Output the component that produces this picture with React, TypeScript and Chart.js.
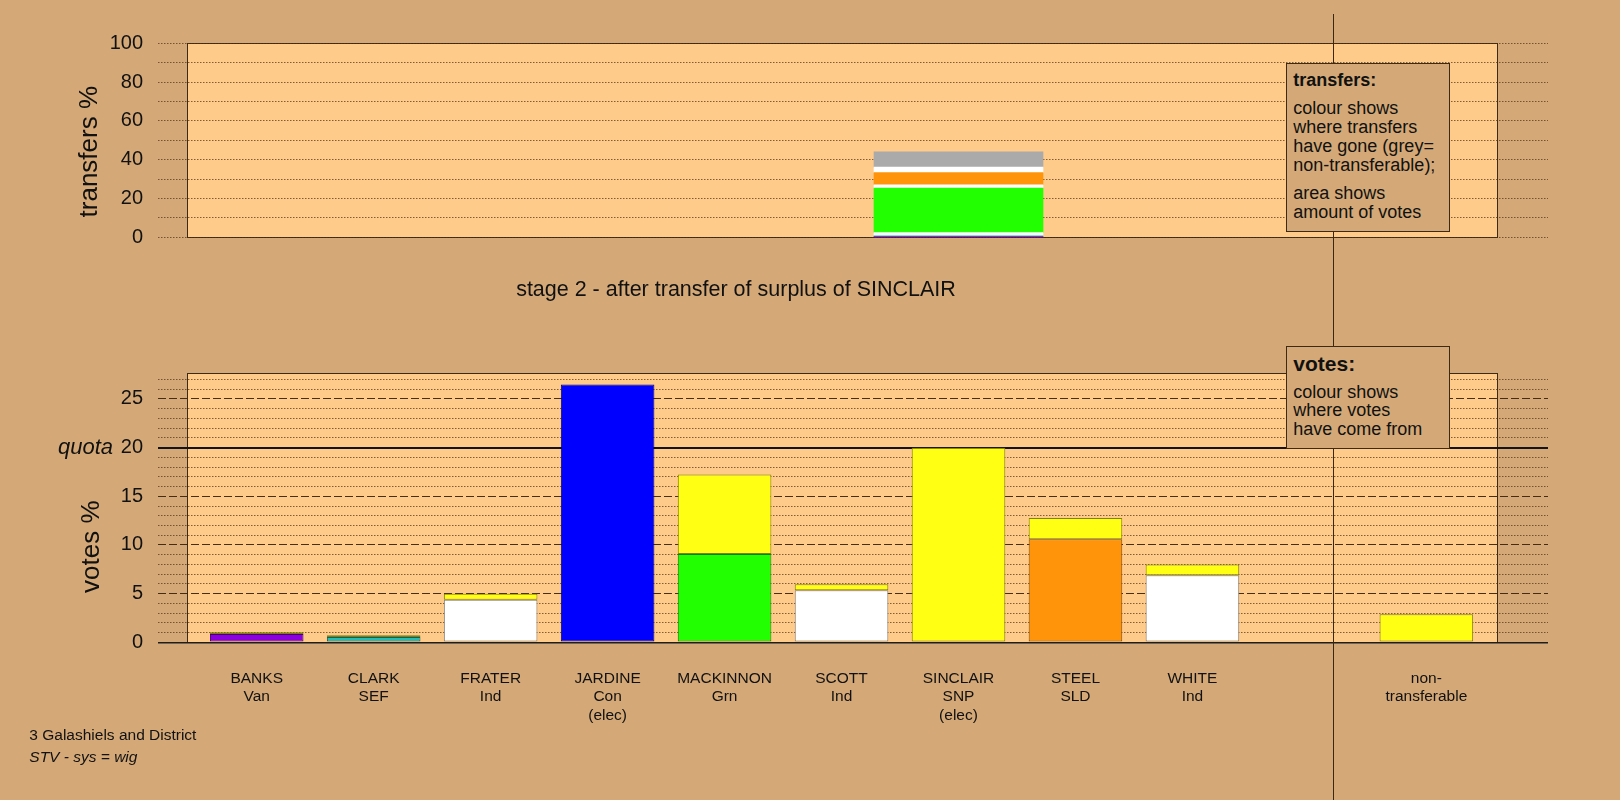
import React, { useEffect, useRef } from 'react';
import { Chart, registerables } from 'chart.js';

Chart.register(...registerables);

// ---------------- data ----------------
const categoryLabels: string[][] = [
  ['BANKS', 'Van'],
  ['CLARK', 'SEF'],
  ['FRATER', 'Ind'],
  ['JARDINE', 'Con', '(elec)'],
  ['MACKINNON', 'Grn'],
  ['SCOTT', 'Ind'],
  ['SINCLAIR', 'SNP', '(elec)'],
  ['STEEL', 'SLD'],
  ['WHITE', 'Ind'],
  [],
  ['non-', 'transferable'],
];
const candidateColours = ['#8c00e0', '#1fbcbc', '#ffffff', '#0000ff', '#22ff00', '#ffffff', '#ffff14', '#ff940a', '#ffffff', '#ffffff', '#ffff14'];
const ownVotes = [0.85, 0.55, 4.36, 26.5, 9.06, 5.35, 20.0, 10.6, 6.9, null, null];
const votesFromSinclair = [0.17, 0.17, 0.64, null, 8.17, 0.62, null, 2.17, 1.1, null, 2.88];
const sinclairColour = '#ffff14';

const transferTargets = ['BANKS', 'CLARK', 'FRATER', 'MACKINNON', 'SCOTT', 'STEEL', 'WHITE', 'non-transferable'];
const transferPercent = [0.4, 0.4, 1.6, 23.0, 1.7, 6.2, 2.9, 7.8];
const transferColours = ['#8c00e0', '#1fbcbc', '#ffffff', '#22ff00', '#ffffff', '#ff940a', '#ffffff', '#aaaaaa'];
const transferSource = 6; // SINCLAIR

const transferTickValues = [0, 10, 20, 30, 40, 50, 60, 70, 80, 90, 100];
const voteTickValues = [0, 1, 2, 3, 4, 5, 6, 7, 8, 9, 10, 11, 12, 13, 14, 15, 16, 17, 18, 19, 20, 21, 22, 23, 24, 25, 26, 27];
const quota = 20;

// ---------------- styles ----------------
const FONT = "'Liberation Sans', Arial, Helvetica, sans-serif";
const BG = '#d4a977';
const PEACH = '#ffcb8a';
const INK = '#111111';
const BOX_LINE = '#3d2a14';
const DOT = 'rgba(80,50,20,0.72)';
const DASH = 'rgba(60,38,15,0.95)';

const X_MIN = -0.844;
const X_MAX = 11.04;
const PANEL_X: [number, number] = [-0.6, 10.6];
const SEPARATOR_X = 9.2;

function darken(hex: string, f = 0.5) {
  const n = parseInt(hex.slice(1), 16);
  const r = Math.round(((n >> 16) & 255) * f);
  const g = Math.round(((n >> 8) & 255) * f);
  const b = Math.round((n & 255) * f);
  return `rgb(${r},${g},${b})`;
}

function panelPlugin(opts: { yTop: number; sepFrom: number; title: string; titleX: number; titleY: number; quota?: number }) {
  return {
    id: 'panel',
    beforeDraw(chart: any) {
      const { ctx } = chart;
      const x = chart.scales.x;
      const y = chart.scales.y;
      const l = Math.round(x.getPixelForValue(PANEL_X[0]));
      const r = Math.round(x.getPixelForValue(PANEL_X[1]));
      const t = Math.round(y.getPixelForValue(opts.yTop));
      const b = Math.round(y.getPixelForValue(0));
      ctx.save();
      ctx.fillStyle = PEACH;
      ctx.fillRect(l, t, r - l, b - t);
      ctx.strokeStyle = BOX_LINE;
      ctx.lineWidth = 1;
      ctx.strokeRect(l + 0.5, t + 0.5, r - l, b - t);
      ctx.restore();
    },
    afterDraw(chart: any) {
      const { ctx } = chart;
      const x = chart.scales.x;
      const y = chart.scales.y;
      const sx = Math.round(x.getPixelForValue(SEPARATOR_X)) + 0.5;
      ctx.save();
      ctx.strokeStyle = '#3a2812';
      ctx.lineWidth = 1;
      ctx.beginPath();
      ctx.moveTo(sx, opts.sepFrom);
      ctx.lineTo(sx, chart.height);
      ctx.stroke();
      ctx.restore();

      ctx.save();
      ctx.fillStyle = INK;
      ctx.font = `26px ${FONT}`;
      ctx.textAlign = 'center';
      ctx.textBaseline = 'alphabetic';
      ctx.translate(opts.titleX, opts.titleY);
      ctx.rotate(-Math.PI / 2);
      ctx.fillText(opts.title, 0, 0);
      ctx.restore();

      if (opts.quota != null) {
        ctx.save();
        ctx.fillStyle = INK;
        ctx.font = `italic 22px ${FONT}`;
        ctx.textAlign = 'right';
        ctx.textBaseline = 'middle';
        ctx.fillText('quota', 113, y.getPixelForValue(opts.quota));
        ctx.restore();
      }
    },
  };
}

function topConfig(): any {
  return {
    type: 'bar',
    data: {
      datasets: transferTargets.map((name, i) => ({
        label: name,
        data: [{ x: transferSource, y: transferPercent[i] }],
        backgroundColor: transferColours[i],
        borderWidth: 0,
        barThickness: 169,
        stack: 'transfer',
      })),
    },
    options: {
      animation: false,
      responsive: false,
      maintainAspectRatio: false,
      layout: { padding: { top: 43.3, right: 72, bottom: 62.7, left: 0 } },
      plugins: { legend: { display: false }, tooltip: { enabled: false } },
      scales: {
        x: { type: 'linear', min: X_MIN, max: X_MAX, offset: false, stacked: true, display: false },
        y: {
          type: 'linear',
          min: 0,
          max: 100,
          stacked: true,
          afterBuildTicks: (s: any) => {
            s.ticks = transferTickValues.map((v) => ({ value: v }));
          },
          afterFit: (s: any) => {
            s.width = 158;
          },
          ticks: {
            autoSkip: false,
            padding: 15,
            color: INK,
            font: { family: FONT, size: 20 },
            callback: (v: number) => (v % 20 === 0 ? String(v) : ''),
          },
          grid: { drawTicks: false, color: DOT, lineWidth: 1 },
          border: { display: false, dash: [1.5, 1.5] },
        },
      },
    },
    plugins: [panelPlugin({ yTop: 100, sepFrom: 14, title: 'transfers %', titleX: 97, titleY: 151.7 })],
  };
}

function bottomConfig(): any {
  const xs = categoryLabels.map((_, i) => i);
  return {
    type: 'bar',
    data: {
      datasets: [
        {
          label: 'own votes',
          data: xs.map((i) => ({ x: i, y: ownVotes[i] })),
          backgroundColor: candidateColours,
          borderColor: candidateColours.map((c) => darken(c)),
          borderWidth: 1,
          borderSkipped: false,
          categoryPercentage: 0.8,
          barPercentage: 1,
          stack: 'votes',
        },
        {
          label: 'from SINCLAIR',
          data: xs.map((i) => ({ x: i, y: votesFromSinclair[i] })),
          backgroundColor: sinclairColour,
          borderColor: darken(sinclairColour),
          borderWidth: 1,
          borderSkipped: false,
          categoryPercentage: 0.8,
          barPercentage: 1,
          stack: 'votes',
        },
      ],
    },
    options: {
      animation: false,
      responsive: false,
      maintainAspectRatio: false,
      layout: { padding: { top: 72.7, right: 72, bottom: 0, left: 0 } },
      plugins: { legend: { display: false }, tooltip: { enabled: false } },
      scales: {
        x: {
          type: 'linear',
          min: X_MIN,
          max: X_MAX,
          offset: false,
          stacked: true,
          grid: { display: false },
          border: { display: false },
          afterBuildTicks: (s: any) => {
            s.ticks = xs.map((v) => ({ value: v }));
          },
          afterFit: (s: any) => {
            s.height = 157.7;
          },
          ticks: {
            autoSkip: false,
            maxRotation: 0,
            minRotation: 0,
            padding: 19,
            color: INK,
            font: { family: FONT, size: 15.5, lineHeight: 1.2 },
            callback: (v: number) => categoryLabels[Math.round(v)] || '',
          },
        },
        y: {
          type: 'linear',
          min: 0,
          max: 27.7,
          stacked: true,
          afterBuildTicks: (s: any) => {
            s.ticks = voteTickValues.map((v) => ({ value: v }));
          },
          afterFit: (s: any) => {
            s.width = 158;
          },
          ticks: {
            autoSkip: false,
            padding: 15,
            color: INK,
            font: { family: FONT, size: 20 },
            callback: (v: number) => (v % 5 === 0 ? String(v) : ''),
          },
          grid: {
            drawTicks: false,
            color: (c: any) => {
              const v = c.tick.value;
              if (v === 0) return '#1e1e1e';
              if (v === quota) return '#141414';
              if (v % 5 === 0) return DASH;
              return DOT;
            },
            lineWidth: (c: any) => {
              const v = c.tick.value;
              if (v === 0) return 1.5;
              if (v === quota) return 2;
              return 1;
            },
          },
          border: {
            display: false,
            dash: (c: any) => {
              const v = c.tick.value;
              if (v === 0 || v === quota) return [];
              if (v % 5 === 0) return [8, 3];
              return [1.5, 1.5];
            },
          },
        },
      },
    },
    plugins: [panelPlugin({ yTop: 27.7, sepFrom: 0, title: 'votes %', titleX: 99.3, titleY: 246.7, quota })],
  };
}

function Txt(props: { x: number; y: number; size: number; text: string; bold?: boolean; italic?: boolean; center?: boolean }) {
  const { x, y, size, text, bold, italic, center } = props;
  return (
    <div
      style={{
        position: 'absolute',
        left: x,
        top: y - size * 0.59,
        fontSize: size,
        lineHeight: `${size * 1.2}px`,
        fontWeight: bold ? 'bold' : 'normal',
        fontStyle: italic ? 'italic' : 'normal',
        whiteSpace: 'nowrap',
        transform: center ? 'translateX(-50%)' : undefined,
        color: INK,
      }}
    >
      {text}
    </div>
  );
}

const boxStyle = (left: number, top: number, width: number, height: number): React.CSSProperties => ({
  position: 'absolute',
  left,
  top,
  width,
  height,
  boxSizing: 'border-box',
  background: BG,
  border: `1px solid ${BOX_LINE}`,
});

export default function App() {
  const topRef = useRef<HTMLCanvasElement>(null);
  const botRef = useRef<HTMLCanvasElement>(null);

  useEffect(() => {
    const top = new Chart(topRef.current as HTMLCanvasElement, topConfig());
    const bot = new Chart(botRef.current as HTMLCanvasElement, bottomConfig());
    return () => {
      top.destroy();
      bot.destroy();
    };
  }, []);

  return (
    <div
      style={{
        position: 'fixed',
        left: 0,
        top: 0,
        width: 1620,
        height: 800,
        background: BG,
        overflow: 'hidden',
        fontFamily: FONT,
      }}
    >
      <canvas ref={topRef} width={1620} height={300} style={{ position: 'absolute', left: 0, top: 0, width: 1620, height: 300 }} />
      <canvas ref={botRef} width={1620} height={500} style={{ position: 'absolute', left: 0, top: 300, width: 1620, height: 500 }} />

      <Txt x={736} y={290} size={21.5} text="stage 2 - after transfer of surplus of SINCLAIR" center />

      <div style={boxStyle(1286, 62.7, 164, 169.6)} />
      <Txt x={1293.3} y={80.7} size={18} bold text="transfers:" />
      <Txt x={1293.3} y={108.3} size={18} text="colour shows" />
      <Txt x={1293.3} y={127.3} size={18} text="where transfers" />
      <Txt x={1293.3} y={146.5} size={18} text="have gone (grey=" />
      <Txt x={1293.3} y={165.6} size={18} text="non-transferable);" />
      <Txt x={1293.3} y={193.3} size={18} text="area shows" />
      <Txt x={1293.3} y={212.3} size={18} text="amount of votes" />

      <div style={boxStyle(1286, 345.7, 164, 103.6)} />
      <Txt x={1293.3} y={363.3} size={21} bold text="votes:" />
      <Txt x={1293.3} y={392.3} size={18} text="colour shows" />
      <Txt x={1293.3} y={411} size={18} text="where votes" />
      <Txt x={1293.3} y={430} size={18} text="have come from" />

      <Txt x={29.3} y={735} size={15.5} text="3 Galashiels and District" />
      <Txt x={29.3} y={756.7} size={15.5} italic text="STV - sys = wig" />
    </div>
  );
}
